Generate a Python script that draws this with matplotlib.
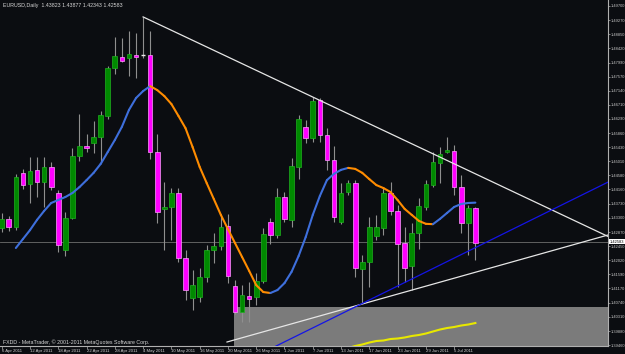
import matplotlib
matplotlib.use("Agg")
import matplotlib.pyplot as plt
import numpy as np

# ---- data (EURUSD daily) ----
opens = [1.4299, 1.4327, 1.4303, 1.4466, 1.4432, 1.4475, 1.4438, 1.4484, 1.4405, 1.4233,
         1.4330, 1.4517, 1.4547, 1.4556, 1.4574, 1.4638, 1.4783, 1.4816, 1.4813, 1.4822,
         1.4821, 1.4822, 1.4529, 1.4357, 1.4363, 1.4405, 1.4209, 1.4088, 1.4091, 1.4152,
         1.4233, 1.4245, 1.4306, 1.4124, 1.4046, 1.4094, 1.4091, 1.4139, 1.4318, 1.4278,
         1.4393, 1.4324, 1.4484, 1.4605, 1.4571, 1.4686, 1.4580, 1.4505, 1.4318, 1.4408,
         1.4435, 1.4176, 1.4197, 1.4275, 1.4299, 1.4405, 1.4351, 1.4254, 1.4185, 1.4284,
         1.4363, 1.4429, 1.4496, 1.4529, 1.4532, 1.4423, 1.4315, 1.4360]
highs = [1.4345, 1.4336, 1.4463, 1.4478, 1.4514, 1.4514, 1.4514, 1.4499, 1.4414, 1.4348,
         1.4541, 1.4644, 1.4583, 1.4623, 1.4653, 1.4789, 1.4876, 1.4873, 1.4894, 1.4888,
         1.4937, 1.4894, 1.4583, 1.4438, 1.4420, 1.4420, 1.4233, 1.4173, 1.4179, 1.4248,
         1.4284, 1.4339, 1.4342, 1.4142, 1.4127, 1.4136, 1.4164, 1.4299, 1.4330, 1.4420,
         1.4408, 1.4511, 1.4641, 1.4626, 1.4695, 1.4692, 1.4601, 1.4547, 1.4435, 1.4444,
         1.4444, 1.4218, 1.4333, 1.4339, 1.4423, 1.4438, 1.4369, 1.4303, 1.4315, 1.4390,
         1.4444, 1.4529, 1.4544, 1.4574, 1.4550, 1.4460, 1.4369, 1.4363]
lows = [1.4287, 1.4290, 1.4293, 1.4417, 1.4375, 1.4393, 1.4363, 1.4414, 1.4227, 1.4215,
        1.4327, 1.4502, 1.4529, 1.4526, 1.4496, 1.4629, 1.4765, 1.4801, 1.4758, 1.4752,
        1.4813, 1.4508, 1.4315, 1.4233, 1.4263, 1.4197, 1.4082, 1.4052, 1.4076, 1.4136,
        1.4194, 1.4233, 1.4133, 1.4040, 1.4016, 1.4016, 1.4067, 1.4133, 1.4251, 1.4269,
        1.4318, 1.4303, 1.4447, 1.4556, 1.4559, 1.4559, 1.4475, 1.4318, 1.4312, 1.4399,
        1.4152, 1.4073, 1.4121, 1.4263, 1.4278, 1.4339, 1.4121, 1.4136, 1.4112, 1.4236,
        1.4354, 1.4423, 1.4435, 1.4526, 1.4399, 1.4284, 1.4218, 1.4203]
closes = [1.4327, 1.4303, 1.4453, 1.4429, 1.4472, 1.4438, 1.4484, 1.4423, 1.4248, 1.4330,
          1.4517, 1.4547, 1.4541, 1.4574, 1.4641, 1.4783, 1.4819, 1.4804, 1.4825, 1.4817,
          1.4821, 1.4529, 1.4348, 1.4363, 1.4405, 1.4209, 1.4112, 1.4127, 1.4152, 1.4233,
          1.4245, 1.4303, 1.4155, 1.4046, 1.4097, 1.4085, 1.4139, 1.4281, 1.4278, 1.4393,
          1.4327, 1.4487, 1.4629, 1.4571, 1.4683, 1.4580, 1.4505, 1.4333, 1.4405, 1.4435,
          1.4179, 1.4197, 1.4303, 1.4303, 1.4405, 1.4351, 1.4251, 1.4179, 1.4284, 1.4366,
          1.4432, 1.4499, 1.4523, 1.4535, 1.4423, 1.4315, 1.4360, 1.4254]

# coloured moving average (starts at bar 2)
ma_start = 2
ma_values = [1.4239, 1.4266, 1.4293, 1.4324, 1.4351, 1.4375, 1.4384, 1.4393, 1.4405, 1.4423,
             1.4444, 1.4466, 1.4493, 1.4529, 1.4565, 1.4605, 1.4656, 1.4692, 1.4713, 1.4728,
             1.4716, 1.4698, 1.4674, 1.4638, 1.4601, 1.4544, 1.4484, 1.4435, 1.4387, 1.4339,
             1.4296, 1.4254, 1.4212, 1.4170, 1.4127, 1.4106, 1.4103, 1.4112, 1.4133, 1.4167,
             1.4215, 1.4272, 1.4339, 1.4396, 1.4444, 1.4463, 1.4475, 1.4481, 1.4478, 1.4466,
             1.4447, 1.4429, 1.4420, 1.4408, 1.4384, 1.4357, 1.4339, 1.4321, 1.4312, 1.4311,
             1.4327, 1.4345, 1.4363, 1.4372, 1.4375, 1.4376]

# yellow indicator line in the grey panel (starts at bar 49)
yellow_start = 49
yellow_values = [1.39370, 1.39430, 1.39475, 1.39535, 1.39581, 1.39596, 1.39641, 1.39656,
                 1.39687, 1.39732, 1.39762, 1.39807, 1.39868, 1.39928, 1.39973, 1.40004,
                 1.40049, 1.40079, 1.40124]

# chart objects (bar index, price)
upper_trend = [(20, 1.4937), (44, 1.4695)]
lower_trend = [(31.87, 1.39551), (85.76, 1.42783)]
blue_trend = [(30.0, 1.3850), (85.76, 1.4438)]
grey_box = (32.8, 1.40608)   # left bar, top price
current_price = 1.42583

date_labels = ["6 Apr 2011", "12 Apr 2011", "18 Apr 2011", "22 Apr 2011", "28 Apr 2011",
               "4 May 2011", "10 May 2011", "16 May 2011", "20 May 2011", "26 May 2011",
               "1 Jun 2011", "7 Jun 2011", "13 Jun 2011", "17 Jun 2011", "23 Jun 2011",
               "29 Jun 2011", "5 Jul 2011"]
date_bars = list(range(0, 68, 4))

price_ticks = [1.49700, 1.49270, 1.48850, 1.48420, 1.47990, 1.47570, 1.47140, 1.46710,
               1.46290, 1.45860, 1.45430, 1.45010, 1.44580, 1.44160, 1.43730, 1.43300,
               1.42870, 1.42450, 1.42020, 1.41590, 1.41170, 1.40740, 1.40310, 1.39880,
               1.39460]

header = "EURUSD,Daily  1.43823 1.43877 1.42343 1.42583"
footer = "FXDD - MetaTrader, \u00a9 2001-2011 MetaQuotes Software Corp."

# ---- drawing ----
BG = "#0b0d11"
FONT = "Liberation Sans"
W, H = 625, 354
fig = plt.figure(figsize=(W / 100, H / 100), dpi=100, facecolor=BG)
ax = fig.add_axes([0, 8 / H, 608 / W, 346 / H])
ax.set_facecolor(BG)
XMIN, XMAX = -0.2405, 85.76
ax.set_xlim(XMIN, XMAX)
ax.set_ylim(1.39430, 1.49881)

n = len(opens)
x = np.arange(n)
o = np.array(opens); c = np.array(closes); h = np.array(highs); l = np.array(lows)

# grey panel
ax.add_patch(plt.Rectangle((grey_box[0], 1.3900), XMAX - grey_box[0] + 1, grey_box[1] - 1.3900,
                           facecolor="#7b7b7b", edgecolor="none", zorder=1))

# current price line
ax.axhline(current_price, color="#6e6e6e", lw=0.6, zorder=1.5)

# candles
ax.vlines(x, l, h, color="#8f8f8f", lw=0.8, zorder=2)
up = c > o
down = c < o
doji = c == o
bw = 0.66
ax.bar(x[up], (c - o)[up], bottom=o[up], width=bw, color="#008a00",
       edgecolor="#20b020", linewidth=0.5, zorder=2.2)
ax.bar(x[down], (o - c)[down], bottom=c[down], width=bw, color="#ff00ff",
       edgecolor="#ff9cff", linewidth=0.5, zorder=2.2)
for i in x[doji]:
    ax.hlines(o[i], i - bw / 2, i + bw / 2, color="#e8e8e8", lw=1.0, zorder=2.3)

# coloured MA
ma = np.array(ma_values)
mx = np.arange(ma_start, ma_start + len(ma))
for i in range(len(ma) - 1):
    col = "#3e6fdc" if ma[i + 1] >= ma[i] else "#ff8c00"
    ax.plot(mx[i:i + 2], ma[i:i + 2], color=col, lw=1.5, solid_capstyle="round", zorder=3)

# yellow line
yx = np.arange(yellow_start, yellow_start + len(yellow_values))
ax.plot(yx, yellow_values, color="#e8e800", lw=1.5, zorder=3)

# trend lines
(ux0, uy0), (ux1, uy1) = upper_trend
slope = (uy1 - uy0) / (ux1 - ux0)
ax.plot([ux0, XMAX], [uy0, uy0 + slope * (XMAX - ux0)], color="#e6e6e6", lw=0.9, zorder=4)
ax.plot([p[0] for p in lower_trend], [p[1] for p in lower_trend], color="#e6e6e6", lw=0.9, zorder=4)
ax.plot([p[0] for p in blue_trend], [p[1] for p in blue_trend], color="#1414e6", lw=0.9, zorder=4)

# axes cosmetics
for s in ["top", "left"]:
    ax.spines[s].set_visible(False)
for s in ["right", "bottom"]:
    ax.spines[s].set_color("#b0b0b0")
    ax.spines[s].set_linewidth(0.8)

ax.yaxis.tick_right()
ax.set_yticks(price_ticks)
ax.set_yticklabels([f"{v:.5f}" for v in price_ticks])
ax.tick_params(axis="y", direction="out", length=1.2, width=0.5, color="#b0b0b0",
               labelsize=2.9, labelcolor="#c8c8c8", pad=0.4)
for t in ax.get_yticklabels():
    t.set_fontfamily(FONT)

ax.set_xticks(date_bars)
ax.set_xticklabels(date_labels)
ax.tick_params(axis="x", direction="out", length=2, width=0.5, color="#b0b0b0",
               labelsize=3.1, labelcolor="#d0d0d0", pad=0.5)
for t in ax.get_xticklabels():
    t.set_fontfamily(FONT)
    t.set_horizontalalignment("left")

# current price label box
ax.annotate(f"{current_price:.5f}", xy=(1.0, current_price), xycoords=("axes fraction", "data"),
            xytext=(1.2, 0), textcoords="offset points", ha="left", va="center",
            fontsize=2.9, family=FONT, color="black",
            bbox=dict(boxstyle="square,pad=0.15", fc="white", ec="none"), zorder=10,
            annotation_clip=False)

fig.text(3 / W, 1 - 6 / H, header, fontsize=3.8, family=FONT, color="#d8d8d8",
         ha="left", va="center")
fig.text(3 / W, 1 - 342 / H, footer, fontsize=3.8, family=FONT, color="#d8d8d8",
         ha="left", va="center")

fig.savefig("out.png", dpi=100, facecolor=BG)
